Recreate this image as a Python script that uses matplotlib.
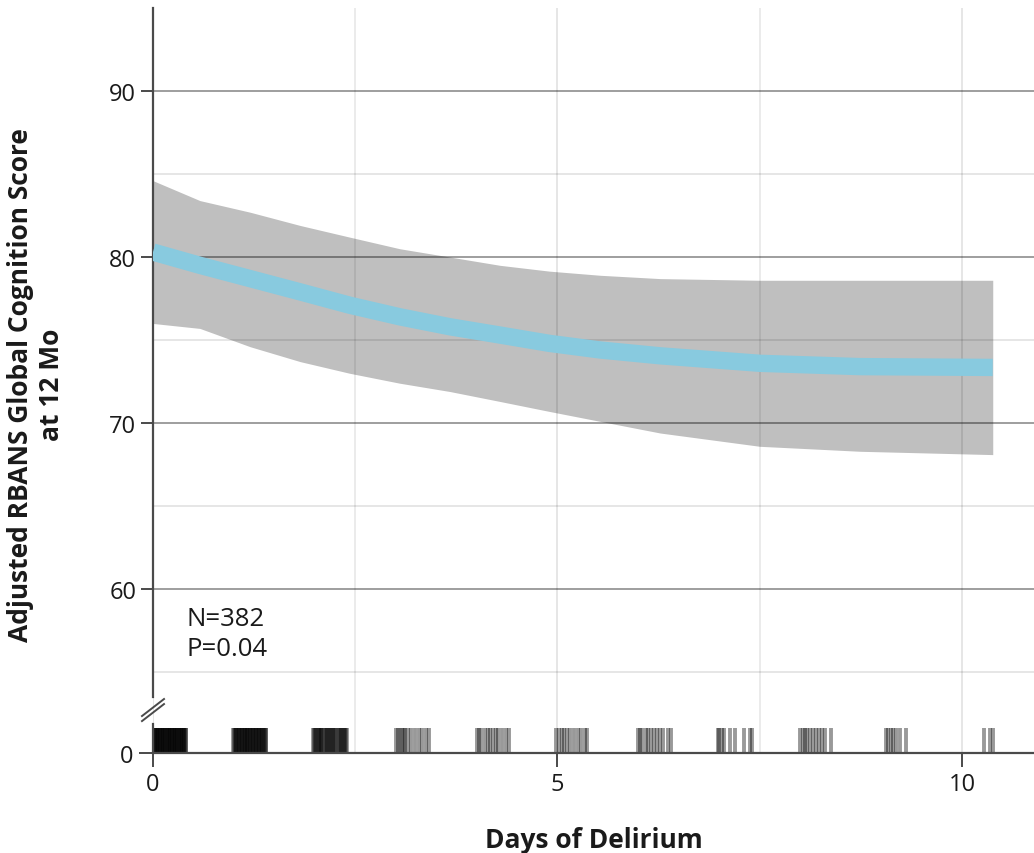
import matplotlib
matplotlib.use('Agg')
import matplotlib.pyplot as plt
from matplotlib.lines import Line2D

plt.rcParams['font.family'] = ['Open Sans', 'DejaVu Sans']

# fitted curve and 95% band
days = [0, 0.58, 1.2, 1.82, 2.43, 3.05, 3.67, 4.29, 4.9, 5.53, 6.27, 7.5, 8.74, 10.38]
score_mean = [80.3, 79.5, 78.7, 77.9, 77.1, 76.4, 75.8, 75.3, 74.8, 74.4, 74.05, 73.6, 73.4, 73.35]
score_upper = [84.6, 83.4, 82.7, 81.9, 81.2, 80.5, 80.0, 79.5, 79.15, 78.9, 78.7, 78.6, 78.6, 78.6]
score_lower = [76.0, 75.7, 74.6, 73.7, 73.0, 72.4, 71.9, 71.3, 70.7, 70.1, 69.4, 68.6, 68.3, 68.1]

# jittered rug of individual patients' days of delirium
rug_day0 = [0.003, 0.012, 0.021, 0.027, 0.036, 0.044, 0.051, 0.058, 0.066, 0.075,
            0.083, 0.089, 0.097, 0.106, 0.114, 0.121, 0.128, 0.137, 0.145, 0.152,
            0.161, 0.168, 0.176, 0.185, 0.192, 0.199, 0.208, 0.216, 0.223, 0.231,
            0.239, 0.247, 0.254, 0.262, 0.271, 0.278, 0.286, 0.293, 0.301, 0.309,
            0.318, 0.325, 0.333, 0.341, 0.349, 0.356, 0.364, 0.372, 0.381, 0.389,
            0.397, 0.404, 0.412]
rug_day1 = [0.992, 1.004, 1.013, 1.022, 1.031, 1.042, 1.049, 1.058, 1.067, 1.078,
            1.086, 1.095, 1.104, 1.113, 1.121, 1.132, 1.141, 1.149, 1.158, 1.167,
            1.178, 1.186, 1.195, 1.203, 1.214, 1.222, 1.231, 1.242, 1.249, 1.258,
            1.267, 1.278, 1.287, 1.295, 1.306, 1.314, 1.323, 1.334, 1.343, 1.352,
            1.363, 1.372, 1.383, 1.392, 1.401]
rug_day2 = [1.983, 1.994, 2.006, 2.017, 2.026, 2.038, 2.049, 2.061, 2.072, 2.081,
            2.094, 2.118, 2.131, 2.143, 2.152, 2.166, 2.178, 2.187, 2.198, 2.212,
            2.224, 2.236, 2.247, 2.258, 2.281, 2.304, 2.317, 2.329, 2.341, 2.352,
            2.366, 2.377, 2.389, 2.398]
rug_day3 = [3.00, 3.03, 3.05, 3.08, 3.10, 3.12, 3.15, 3.19, 3.24, 3.29, 3.33, 3.38, 3.41]
rug_day4 = [4.00, 4.03, 4.06, 4.10, 4.14, 4.17, 4.20, 4.24, 4.27, 4.31, 4.36, 4.40]
rug_day5 = [4.98, 5.02, 5.05, 5.08, 5.12, 5.16, 5.20, 5.25, 5.29, 5.34, 5.37]
rug_day6 = [5.99, 6.02, 6.05, 6.09, 6.12, 6.15, 6.19, 6.23, 6.27, 6.31, 6.36, 6.40]
rug_day7 = [6.98, 7.00, 7.03, 7.06, 7.13, 7.19, 7.30, 7.38, 7.41]
rug_day8 = [8.00, 8.03, 8.06, 8.09, 8.12, 8.16, 8.19, 8.23, 8.27, 8.31, 8.38]
rug_day9 = [9.06, 9.09, 9.12, 9.15, 9.19, 9.23, 9.31]
rug_day10 = [10.27, 10.35, 10.38]
rug_all = (rug_day0 + rug_day1 + rug_day2 + rug_day3 + rug_day4 + rug_day5
           + rug_day6 + rug_day7 + rug_day8 + rug_day9 + rug_day10)

x_major = [0, 5, 10]
x_minor = [2.5, 7.5]
y_major = [60, 70, 80, 90]
y_minor = [55, 65, 75, 85]

SPINE = '#4a4a4a'
TXT = '#1a1a1a'

W, H = 1034, 854
fig = plt.figure(figsize=(W / 100, H / 100), dpi=100)

x0 = 153 / W
ax = fig.add_axes([x0, (H - 698) / H, 1 - x0, (698 - 9) / H])
axr = fig.add_axes([x0, (H - 754) / H, 1 - x0, (754 - 698) / H])

xlim = (0, 10.89)

# upper panel
ax.fill_between(days, score_lower, score_upper, color='#bfbfbf', lw=0, zorder=1)
ax.plot(days, score_mean, color='#88cadf', lw=12.5, solid_capstyle='butt',
        solid_joinstyle='round', zorder=3)
ax.set_xlim(xlim)
ax.set_ylim(53.5, 95)
ax.set_yticks(y_major)
ax.set_yticks(y_minor, minor=True)
ax.set_xticks(x_major)
ax.set_xticks(x_minor, minor=True)
ax.grid(True, which='major', axis='y', color='black', alpha=0.38, lw=1.4, zorder=2)
ax.grid(True, which='minor', axis='y', color='black', alpha=0.10, lw=1.4, zorder=2)
ax.grid(True, which='major', axis='x', color='black', alpha=0.10, lw=1.4, zorder=2)
ax.grid(True, which='minor', axis='x', color='black', alpha=0.08, lw=1.4, zorder=2)
ax.set_axisbelow('line')
for s in ['top', 'right', 'bottom']:
    ax.spines[s].set_visible(False)
ax.spines['left'].set_color(SPINE)
ax.spines['left'].set_linewidth(1.6)
ax.tick_params(axis='y', which='major', length=9, width=1.4, color=SPINE,
               labelsize=17, labelcolor=TXT, pad=3)
ax.tick_params(axis='y', which='minor', length=0)
ax.tick_params(axis='x', which='both', length=0, labelbottom=False)
ax.text(0.41, 59.0, 'N=382\nP=0.04', fontsize=18.5, color=TXT, va='top', ha='left',
        linespacing=1.3)

# lower rug panel
axr.vlines(rug_all, 0, 1, color='black', alpha=0.4, lw=2.8)
axr.set_xlim(xlim)
axr.set_ylim(0, 2.24)
axr.set_yticks([0])
axr.set_xticks(x_major)
axr.set_xticks(x_minor, minor=True)
axr.grid(True, which='major', axis='x', color='black', alpha=0.10, lw=1.4)
axr.grid(True, which='minor', axis='x', color='black', alpha=0.08, lw=1.4)
axr.set_axisbelow(True)
axr.patch.set_alpha(0)
for s in ['top', 'right']:
    axr.spines[s].set_visible(False)
for s in ['left', 'bottom']:
    axr.spines[s].set_color(SPINE)
    axr.spines[s].set_linewidth(1.6)
axr.spines['left'].set_bounds(0, 1.15)
axr.tick_params(axis='both', which='major', length=10, width=1.4, color=SPINE,
                labelsize=17, labelcolor=TXT, pad=4)
axr.tick_params(axis='x', which='minor', length=0)
axr.set_xlabel('Days of Delirium', fontsize=19, fontweight='bold', color=TXT,
               labelpad=21)

# axis break marks
for dy in (0.0, -0.09):
    axr.add_line(Line2D([-0.0125, 0.0125], [0.66 + dy, 0.964 + dy],
                        transform=axr.transAxes, color=SPINE, lw=1.4, clip_on=False))

fig.text(36 / W, 1 - 385 / H, 'Adjusted RBANS Global Cognition Score\nat 12 Mo',
         rotation=90, ha='center', va='center', multialignment='center',
         fontsize=19, fontweight='bold', color=TXT)

fig.savefig('out.png', dpi=100)
